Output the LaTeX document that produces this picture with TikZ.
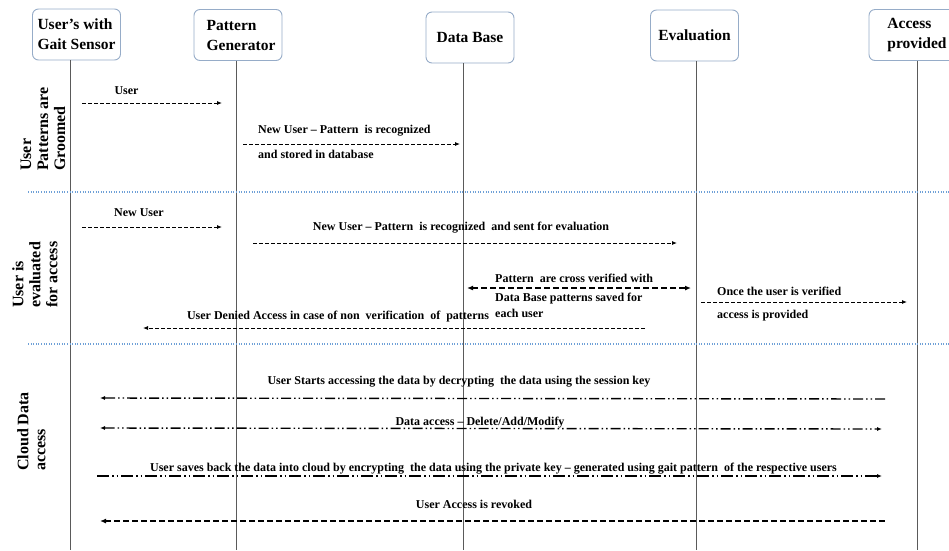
\documentclass[tikz,border=0pt]{standalone}
\usepackage{fontspec}
\setmainfont{Liberation Serif}
\usetikzlibrary{arrows.meta}
\definecolor{boxc}{RGB}{150,172,200}
\definecolor{sepc}{RGB}{110,160,215}
\definecolor{lifec}{RGB}{90,90,90}
\begin{document}
\begin{tikzpicture}[x=1pt,y=-1pt,
  actor/.style={draw=boxc, line width=0.9pt, rounded corners=6pt, fill=white,
    minimum width=88pt, minimum height=51pt, inner sep=2pt, align=left,
    font=\fontsize{15.5}{20}\selectfont\bfseries},
  lane/.style={rotate=90, anchor=west, inner sep=0pt, align=left,
    font=\fontsize{16}{17}\selectfont\bfseries},
  lbl/.style={inner sep=0pt, font=\fontsize{12}{14}\selectfont\bfseries},
  life/.style={draw=lifec, line width=0.8pt},
  sepline/.style={draw=sepc, line width=1.4pt, dash pattern=on 1pt off 1.6pt},
  tip/.style={-{Latex[length=5pt,width=4pt]}},
  msg/.style={line width=0.9pt, dash pattern=on 4pt off 2pt, tip},
  msgthick/.style={line width=1.5pt, dash pattern=on 6pt off 3pt, {Latex[length=6pt,width=5pt]}-{Latex[length=6pt,width=5pt]}},
  dashdot/.style={line width=1.4pt, dash pattern=on 10pt off 3pt on 1.5pt off 3pt on 1.5pt off 3pt},
  revoked/.style={line width=1.6pt, dash pattern=on 6pt off 3pt, {Latex[length=6pt,width=5pt]}-}
]
\useasboundingbox (0,0) rectangle (949,550);
\clip (0,0) rectangle (949,550);

% lifeline x positions
\coordinate (x1) at (70,0);
\coordinate (x2) at (236,0);
\coordinate (x3) at (463,0);
\coordinate (x4) at (696,0);
\coordinate (x5) at (917,0);
\coordinate (bot) at (0,550);

% actors
\node[actor] (usr) at (76.5,34.5) {User's with\\Gait Sensor};
\node[actor] (pg) at (238,35) {\hspace*{6pt}Pattern\\\hspace*{6pt}Generator};
\node[actor] (db) at (470,37.5) {\raisebox{-8pt}{Data Base}};
\node[actor] (ev) at (694.5,35.5) {\raisebox{-8pt}{Evaluation}};
\node[actor, minimum width=96pt] (ap) at (917,35) {Access\\provided};

% lifelines
\draw[life] (usr.south -| x1) -- (bot -| x1);
\draw[life] (pg.south -| x2) -- (bot -| x2);
\draw[life] (db.south -| x3) -- (bot -| x3);
\draw[life] (ev.south -| x4) -- (bot -| x4);
\draw[life] (ap.south -| x5) -- (bot -| x5);

% separators
\coordinate (s1a) at (28,192); \coordinate (s1b) at (949,192);
\coordinate (s2a) at (28,344); \coordinate (s2b) at (949,344);
\draw[sepline] (s1a) -- (s1b);
\draw[sepline] (s2a) -- (s2b);

% lane labels
\node[lane] (lane1) at (43,171) {User\\Patterns are\\Groomed};
\node[lane] (lane2) at (35,308) {User is\\evaluated\\for access};
\node[lane] (lane3) at (31.5,471) {Cloud Data\\access};

% section 1
\coordinate (a1s) at (82,103); \coordinate (a1e) at (222,103);
\draw[msg] (a1s) -- (a1e);
\node[lbl, anchor=base] (m1) at (126.5,94) {User};

\coordinate (a2s) at (243,144); \coordinate (a2e) at (460,144);
\draw[msg] (a2s) -- (a2e);
\node[lbl, anchor=base west] (m2) at (258,133) {New User -- Pattern\ \ is recognized};
\node[lbl, anchor=base west] (m2b) at (258,158) {and stored in database};

% section 2
\coordinate (a3s) at (82,227); \coordinate (a3e) at (222,227);
\draw[msg] (a3s) -- (a3e);
\node[lbl, anchor=base] (m3) at (139,216) {New User};

\coordinate (a4s) at (253,243); \coordinate (a4e) at (677,243);
\draw[msg] (a4s) -- (a4e);
\node[lbl, anchor=base] (m4) at (461,230) {New User -- Pattern\ \ is recognized\ \ and sent for evaluation};

\coordinate (a5s) at (467,288); \coordinate (a5e) at (691,288);
\draw[msgthick] (a5s) -- (a5e);
\node[lbl, anchor=base west] (m5a) at (495,282) {Pattern\ \ are cross verified\ with};
\node[lbl, anchor=base west] (m5b) at (495,301) {Data Base patterns saved for};
\node[lbl, anchor=base west] (m5c) at (495,317) {each user};

\coordinate (a6s) at (701,302); \coordinate (a6e) at (907,302);
\draw[msg] (a6s) -- (a6e);
\node[lbl, anchor=base west] (m6a) at (717,295) {Once the user is verified};
\node[lbl, anchor=base west] (m6b) at (717,318) {access is provided};

\coordinate (a7s) at (645,328); \coordinate (a7e) at (143,328);
\draw[msg] (a7s) -- (a7e);
\node[lbl, anchor=base] (m7) at (338,319) {User Denied Access in case of non\ \ verification\ \ of\ \ patterns};

% section 3
\coordinate (a8s) at (885,399); \coordinate (a8e) at (100,398);
\draw[dashdot, tip] (a8s) -- (a8e);
\node[lbl, anchor=base] (m8) at (459,384) {User Starts accessing the data by decrypting\ \ the data using the session key};

\coordinate (a9s) at (100,428); \coordinate (a9e) at (882,429);
\draw[dashdot, {Latex[length=5pt,width=4pt]}-{Latex[length=5pt,width=4pt]}] (a9s) -- (a9e);
\node[lbl, anchor=base] (m9) at (480,425) {Data access -- Delete/Add/Modify};

\coordinate (a10s) at (97,476); \coordinate (a10e) at (882,476);
\draw[dashdot, dash pattern=on 12pt off 3pt on 1.5pt off 3pt on 1.5pt off 3pt, tip] (a10s) -- (a10e);
\node[lbl, anchor=base] (m10) at (493.5,471) {User saves back the data into cloud by encrypting\ \ the data using the private key -- generated using gait pattern\ \ of the respective users};

\coordinate (a11s) at (885,521); \coordinate (a11e) at (100,521);
\draw[revoked] (a11e) -- (a11s);
\node[lbl, anchor=base] (m11) at (474,508) {User Access is revoked};
\end{tikzpicture}
\end{document}
